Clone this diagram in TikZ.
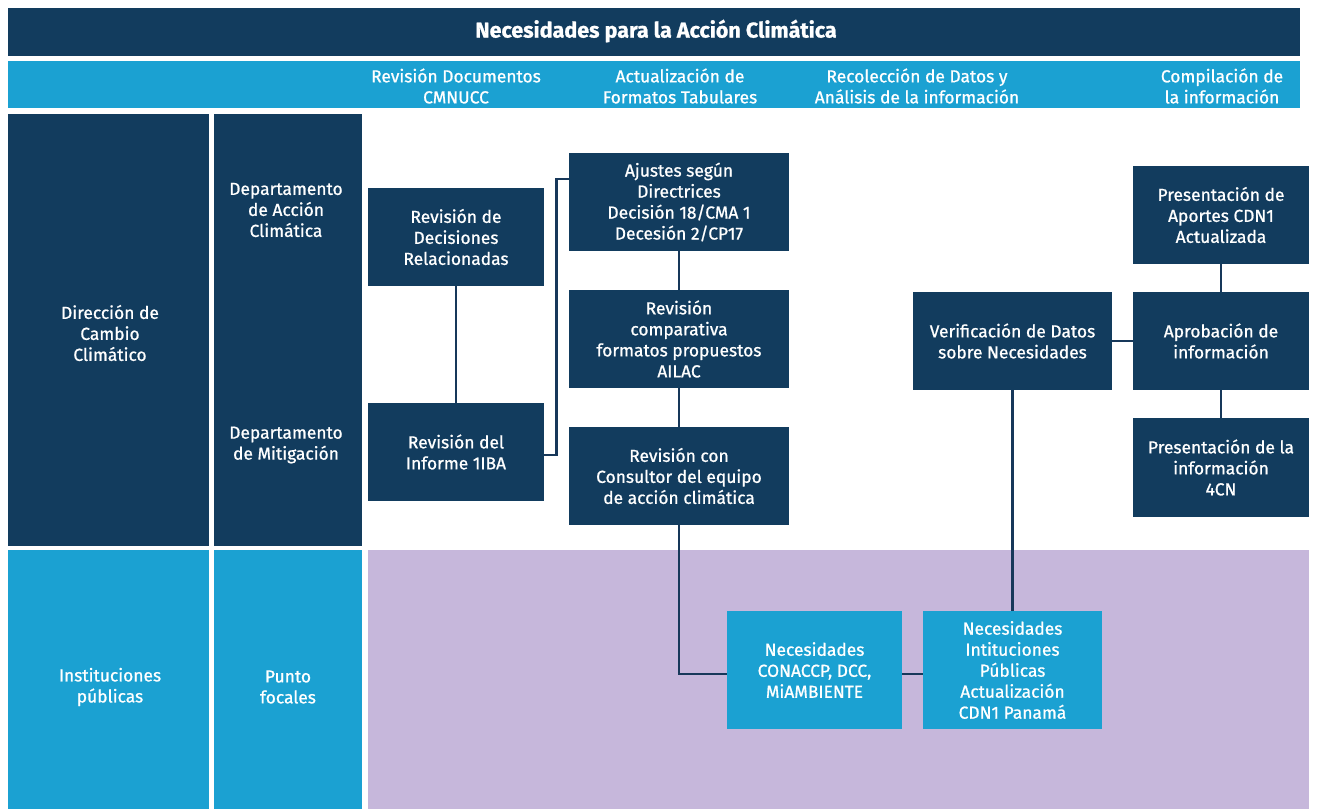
\documentclass[tikz,border=0pt]{standalone}
\usepackage{fontspec}
\setmainfont{Fira Sans}[FakeBold=0.9]
\definecolor{navy}{HTML}{123C5E}
\definecolor{sky}{HTML}{1BA1D2}
\definecolor{lilac}{HTML}{C6B7DB}
\definecolor{linec}{HTML}{17385A}
\begin{document}
\begin{tikzpicture}[x=1pt,y=-1pt,
  txt/.style={text=white,align=center,font=\fontsize{17.4}{21}\selectfont},
  darkbox/.style={txt,fill=navy,inner sep=0pt,minimum width=#1},
  darkbox/.default=176pt,
  lightbox/.style={txt,fill=sky,inner sep=0pt},
  label/.style={txt,inner sep=0pt},
  link/.style={draw=linec,line width=2.6pt}]
\useasboundingbox (0,0) rectangle (1317,809);
\fill[white] (0,0) rectangle (1317,809);
% header bars
\node[fill=navy,minimum width=1292pt,minimum height=48pt,inner sep=0pt] (title) at (654,32) {};
\node[text=white,font=\fontsize{21.5}{24}\selectfont\bfseries] (titletext) at (656,31) {Necesidades para la Acción Climática};
\node[fill=sky,minimum width=1292pt,minimum height=47pt,inner sep=0pt] (sub) at (654,84.5) {};
\node[label] (h1) at (456,86) {Revisión Documentos\\CMNUCC};
\node[label] (h2) at (680,86) {Actualización de\\Formatos Tabulares};
\node[label] (h3) at (917,86) {Recolección de Datos y\\Análisis de la información};
\node[label] (h4) at (1222,86) {Compilación de\\la información};
% left columns
\node[fill=navy,minimum width=201pt,minimum height=432pt,inner sep=0pt] (dccbox) at (108.5,330) {};
\node[label] (dcc) at (110,333) {Dirección de\\Cambio\\Climático};
\node[fill=navy,minimum width=148pt,minimum height=432pt,inner sep=0pt] (deps) at (288,330) {};
\node[label] (dac) at (286,210) {Departamento\\de Acción\\Climática};
\node[label] (dmi) at (286,445) {Departamento\\de Mitigación};
\node[fill=sky,minimum width=201pt,minimum height=259pt,inner sep=0pt] (instbox) at (108.5,679.5) {};
\node[label] (inst) at (110,687) {Instituciones\\públicas};
\node[fill=sky,minimum width=148pt,minimum height=259pt,inner sep=0pt] (pfbox) at (288,679.5) {};
\node[label] (pf) at (288,687) {Punto\\focales};
\node[fill=lilac,minimum width=941pt,minimum height=259pt,inner sep=0pt] (lil) at (838.5,679.5) {};
% process boxes
\node[darkbox=176pt,minimum height=98pt] (rdec) at (456,237) {Revisión de\\Decisiones\\Relacionadas};
\node[darkbox=176pt,minimum height=98pt] (rinf) at (456,452) {Revisión del\\Informe 1IBA};
\node[darkbox=220pt,minimum height=98pt] (aj) at (679,202) {Ajustes según\\Directrices\\Decisión 18/CMA 1\\Decesión 2/CP17};
\node[darkbox=220pt,minimum height=98pt] (comp) at (679,339) {Revisión\\comparativa\\formatos propuestos\\AILAC};
\node[darkbox=220pt,minimum height=98pt] (cons) at (679,476) {Revisión con\\Consultor del equipo\\de acción climática};
\node[darkbox=199pt,minimum height=98pt] (ver) at (1012.5,341) {Verificación de Datos\\sobre Necesidades};
\node[darkbox=176pt,minimum height=98pt] (pap) at (1221,215) {Presentación de\\Aportes CDN1\\Actualizada};
\node[darkbox=176pt,minimum height=98pt] (apr) at (1221,341) {Aprobación de\\información};
\node[darkbox=176pt,minimum height=99pt] (p4) at (1221,467.5) {Presentación de la\\información\\4CN};
\node[lightbox,minimum width=175pt,minimum height=118pt] (nconac) at (814.5,670) {Necesidades\\CONACCP, DCC,\\MiAMBIENTE};
\node[lightbox,minimum width=179pt,minimum height=118pt] (ninst) at (1012.5,670) {Necesidades\\Intituciones\\Públicas\\Actualización\\CDN1 Panamá};
% connectors
\draw[link] (rdec) -- (rinf);
\draw[link] ([yshift=-3pt]rinf.east) -- ++(12,0) |- ([yshift=23pt]aj.west);
\draw[link] (aj) -- (comp);
\draw[link] (comp) -- (cons);
\draw[link] (cons.south) |- ([yshift=-4pt]nconac.west);
\draw[link] ([yshift=-4pt]nconac.east) -- ([yshift=-4pt]ninst.west);
\draw[link] (ver) -- (ninst);
\draw[link] (ver) -- (apr);
\draw[link] (pap) -- (apr);
\draw[link] (apr) -- (p4);
\end{tikzpicture}
\end{document}
